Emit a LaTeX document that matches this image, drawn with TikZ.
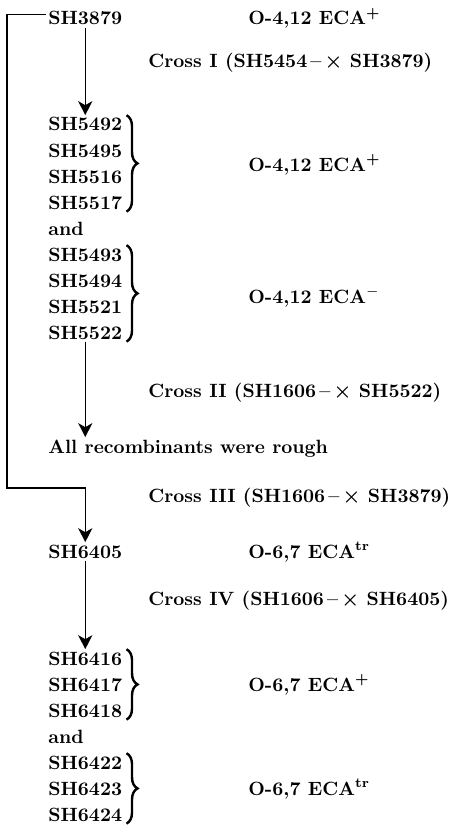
\documentclass[tikz,border=0pt]{standalone}
\usepackage{amsmath}
\usetikzlibrary{arrows.meta,decorations.pathreplacing}
\tikzset{
  row/.style={anchor=base west,inner sep=1pt,font=\fontsize{9.6}{12}\bfseries},
  lab/.style={anchor=base west,inner sep=1pt,font=\fontsize{9.6}{12}\bfseries},
  arr/.style={line width=0.7pt,-{Stealth[length=7pt,width=7pt,inset=2pt]}},
  brc/.style={line width=1.2pt,decorate,decoration={brace,amplitude=5.5pt}}
}
\newcommand{\crx}{\,--\,$\boldsymbol{\times}$ }

\begin{document}
\begin{tikzpicture}[x=0.5pt,y=-0.5pt]
    \useasboundingbox (0,0) rectangle (450,829);
    % parent strain and cross I
    \node[row] (sh3879) at (46,25) {SH3879};
    \node[lab] (eca1) at (246,25) {O-4,12 ECA\textsuperscript{+}};
    \node[lab] (cross1) at (146,68) {Cross I (SH5454\crx SH3879)};
    \foreach \id [count=\i from 0] in {5492,5495,5516,5517}{\node[row] (sh\id) at (46,131+26*\i) {SH\id};}
    \node[row] (and1) at (46,235) {and};
    \foreach \id [count=\i from 0] in {5493,5494,5521,5522}{\node[row] (sh\id) at (46,261+26*\i) {SH\id};}
    \draw[brc] ([xshift=1pt]sh5492.north east) -- ([xshift=1pt]sh5517.south east);
    \draw[brc] ([xshift=1pt]sh5493.north east) -- ([xshift=1pt]sh5522.south east);
    \node[lab] (eca2) at (246,171) {O-4,12 ECA\textsuperscript{+}};
    \node[lab] (eca3) at (246,303) {O-4,12 ECA\textsuperscript{$-$}};
    % cross II
    \node[lab] (cross2) at (146,397) {Cross II (SH1606\crx SH5522)};
    \node[row] (rough) at (46,453) {All recombinants were rough};
    % cross III and IV
    \node[lab] (cross3) at (146,502) {Cross III (SH1606\crx SH3879)};
    \node[row] (sh6405) at (46,558) {SH6405};
    \node[lab] (eca4) at (246,558) {O-6,7 ECA\textsuperscript{tr}};
    \node[lab] (cross4) at (146,605) {Cross IV (SH1606\crx SH6405)};
    \foreach \id [count=\i from 0] in {6416,6417,6418}{\node[row] (sh\id) at (46,665+26*\i) {SH\id};}
    \node[row] (and2) at (46,743) {and};
    \foreach \id [count=\i from 0] in {6422,6423,6424}{\node[row] (sh\id) at (46,769+26*\i) {SH\id};}
    \draw[brc] ([xshift=1pt]sh6416.north east) -- ([xshift=1pt]sh6418.south east);
    \draw[brc] ([xshift=1pt]sh6422.north east) -- ([xshift=1pt]sh6424.south east);
    \node[lab] (eca5) at (246,691) {O-6,7 ECA\textsuperscript{+}};
    \node[lab] (eca6) at (246,795) {O-6,7 ECA\textsuperscript{tr}};
    % connectors
    \coordinate (bend) at (7,488);
    \draw[arr] (sh3879) -- (sh5492);
    \draw[arr] (sh5522.south) -- (sh5522.south |- rough.north);
    \draw[arr] ([yshift=2pt]sh3879.west) -| (bend) -| (sh6405.north);
    \draw[arr] (sh6405) -- (sh6416);
\end{tikzpicture}
\end{document}
